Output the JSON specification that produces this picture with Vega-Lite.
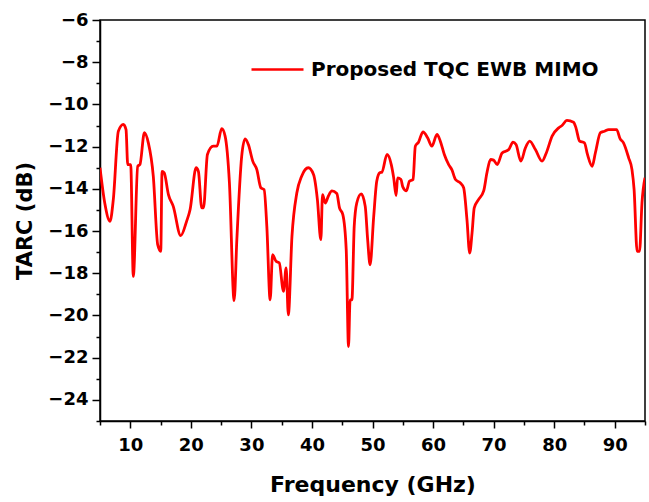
{
  "$schema": "https://vega.github.io/schema/vega-lite/v6.json",
  "width": 545,
  "height": 401,
  "autosize": {"type": "none"},
  "padding": {"left": 100, "top": 20, "right": 4, "bottom": 81},
  "background": "white",
  "config": {
    "view": {"stroke": "black", "strokeWidth": 1.5},
    "font": "DejaVu Sans",
    "axis": {"grid": false, "domainColor": "black", "domainWidth": 1.5, "tickColor": "black", "tickWidth": 1.5, "labelColor": "black", "titleColor": "black", "labelFont": "DejaVu Sans", "titleFont": "DejaVu Sans", "labelFontWeight": "bold", "titleFontWeight": "bold"}
  },
  "data": {"values": [
    {"f":5.0,"t":-13.0,"s":"Proposed TQC EWB MIMO"},
    {"f":5.8,"t":-14.7,"s":"Proposed TQC EWB MIMO"},
    {"f":6.65,"t":-15.54,"s":"Proposed TQC EWB MIMO"},
    {"f":7.2,"t":-14.5,"s":"Proposed TQC EWB MIMO"},
    {"f":8.03,"t":-11.27,"s":"Proposed TQC EWB MIMO"},
    {"f":8.86,"t":-10.95,"s":"Proposed TQC EWB MIMO"},
    {"f":9.3,"t":-11.19,"s":"Proposed TQC EWB MIMO"},
    {"f":9.58,"t":-12.85,"s":"Proposed TQC EWB MIMO"},
    {"f":10.07,"t":-12.85,"s":"Proposed TQC EWB MIMO"},
    {"f":10.5,"t":-18.15,"s":"Proposed TQC EWB MIMO"},
    {"f":11.23,"t":-12.93,"s":"Proposed TQC EWB MIMO"},
    {"f":11.6,"t":-12.85,"s":"Proposed TQC EWB MIMO"},
    {"f":12.33,"t":-11.34,"s":"Proposed TQC EWB MIMO"},
    {"f":12.98,"t":-11.82,"s":"Proposed TQC EWB MIMO"},
    {"f":13.8,"t":-13.4,"s":"Proposed TQC EWB MIMO"},
    {"f":14.53,"t":-16.65,"s":"Proposed TQC EWB MIMO"},
    {"f":15.03,"t":-16.96,"s":"Proposed TQC EWB MIMO"},
    {"f":15.25,"t":-13.17,"s":"Proposed TQC EWB MIMO"},
    {"f":15.6,"t":-13.24,"s":"Proposed TQC EWB MIMO"},
    {"f":16.3,"t":-14.27,"s":"Proposed TQC EWB MIMO"},
    {"f":17.1,"t":-14.83,"s":"Proposed TQC EWB MIMO"},
    {"f":18.33,"t":-16.22,"s":"Proposed TQC EWB MIMO"},
    {"f":19.3,"t":-15.54,"s":"Proposed TQC EWB MIMO"},
    {"f":19.88,"t":-14.98,"s":"Proposed TQC EWB MIMO"},
    {"f":20.87,"t":-13.0,"s":"Proposed TQC EWB MIMO"},
    {"f":21.25,"t":-13.17,"s":"Proposed TQC EWB MIMO"},
    {"f":21.8,"t":-14.9,"s":"Proposed TQC EWB MIMO"},
    {"f":22.1,"t":-14.9,"s":"Proposed TQC EWB MIMO"},
    {"f":22.74,"t":-12.37,"s":"Proposed TQC EWB MIMO"},
    {"f":23.7,"t":-11.98,"s":"Proposed TQC EWB MIMO"},
    {"f":24.3,"t":-11.98,"s":"Proposed TQC EWB MIMO"},
    {"f":25.1,"t":-11.15,"s":"Proposed TQC EWB MIMO"},
    {"f":25.66,"t":-11.5,"s":"Proposed TQC EWB MIMO"},
    {"f":26.37,"t":-13.7,"s":"Proposed TQC EWB MIMO"},
    {"f":27.15,"t":-19.3,"s":"Proposed TQC EWB MIMO"},
    {"f":27.6,"t":-16.4,"s":"Proposed TQC EWB MIMO"},
    {"f":28.4,"t":-12.45,"s":"Proposed TQC EWB MIMO"},
    {"f":28.97,"t":-11.63,"s":"Proposed TQC EWB MIMO"},
    {"f":29.5,"t":-11.9,"s":"Proposed TQC EWB MIMO"},
    {"f":30.24,"t":-12.7,"s":"Proposed TQC EWB MIMO"},
    {"f":30.9,"t":-13.09,"s":"Proposed TQC EWB MIMO"},
    {"f":31.56,"t":-13.95,"s":"Proposed TQC EWB MIMO"},
    {"f":32.1,"t":-14.04,"s":"Proposed TQC EWB MIMO"},
    {"f":32.55,"t":-15.78,"s":"Proposed TQC EWB MIMO"},
    {"f":33.1,"t":-19.26,"s":"Proposed TQC EWB MIMO"},
    {"f":33.5,"t":-17.12,"s":"Proposed TQC EWB MIMO"},
    {"f":34.1,"t":-17.44,"s":"Proposed TQC EWB MIMO"},
    {"f":34.6,"t":-17.5,"s":"Proposed TQC EWB MIMO"},
    {"f":35.3,"t":-18.86,"s":"Proposed TQC EWB MIMO"},
    {"f":35.74,"t":-17.74,"s":"Proposed TQC EWB MIMO"},
    {"f":36.1,"t":-19.97,"s":"Proposed TQC EWB MIMO"},
    {"f":36.7,"t":-16.25,"s":"Proposed TQC EWB MIMO"},
    {"f":37.5,"t":-14.2,"s":"Proposed TQC EWB MIMO"},
    {"f":38.3,"t":-13.4,"s":"Proposed TQC EWB MIMO"},
    {"f":39.4,"t":-13.0,"s":"Proposed TQC EWB MIMO"},
    {"f":40.26,"t":-13.32,"s":"Proposed TQC EWB MIMO"},
    {"f":40.9,"t":-14.51,"s":"Proposed TQC EWB MIMO"},
    {"f":41.47,"t":-16.41,"s":"Proposed TQC EWB MIMO"},
    {"f":41.75,"t":-14.27,"s":"Proposed TQC EWB MIMO"},
    {"f":42.2,"t":-14.67,"s":"Proposed TQC EWB MIMO"},
    {"f":42.7,"t":-14.35,"s":"Proposed TQC EWB MIMO"},
    {"f":43.3,"t":-14.1,"s":"Proposed TQC EWB MIMO"},
    {"f":44.1,"t":-14.22,"s":"Proposed TQC EWB MIMO"},
    {"f":44.55,"t":-14.9,"s":"Proposed TQC EWB MIMO"},
    {"f":45.1,"t":-15.22,"s":"Proposed TQC EWB MIMO"},
    {"f":45.66,"t":-16.88,"s":"Proposed TQC EWB MIMO"},
    {"f":46.04,"t":-21.47,"s":"Proposed TQC EWB MIMO"},
    {"f":46.3,"t":-19.26,"s":"Proposed TQC EWB MIMO"},
    {"f":46.6,"t":-19.26,"s":"Proposed TQC EWB MIMO"},
    {"f":46.98,"t":-15.78,"s":"Proposed TQC EWB MIMO"},
    {"f":47.4,"t":-14.67,"s":"Proposed TQC EWB MIMO"},
    {"f":48.14,"t":-14.24,"s":"Proposed TQC EWB MIMO"},
    {"f":48.8,"t":-14.83,"s":"Proposed TQC EWB MIMO"},
    {"f":49.2,"t":-16.41,"s":"Proposed TQC EWB MIMO"},
    {"f":49.6,"t":-17.6,"s":"Proposed TQC EWB MIMO"},
    {"f":50.2,"t":-15.3,"s":"Proposed TQC EWB MIMO"},
    {"f":50.7,"t":-13.64,"s":"Proposed TQC EWB MIMO"},
    {"f":51.2,"t":-13.24,"s":"Proposed TQC EWB MIMO"},
    {"f":51.56,"t":-13.21,"s":"Proposed TQC EWB MIMO"},
    {"f":52.4,"t":-12.37,"s":"Proposed TQC EWB MIMO"},
    {"f":53.1,"t":-12.85,"s":"Proposed TQC EWB MIMO"},
    {"f":53.5,"t":-13.48,"s":"Proposed TQC EWB MIMO"},
    {"f":53.9,"t":-14.32,"s":"Proposed TQC EWB MIMO"},
    {"f":54.14,"t":-13.48,"s":"Proposed TQC EWB MIMO"},
    {"f":54.7,"t":-13.56,"s":"Proposed TQC EWB MIMO"},
    {"f":55.0,"t":-13.91,"s":"Proposed TQC EWB MIMO"},
    {"f":55.6,"t":-14.1,"s":"Proposed TQC EWB MIMO"},
    {"f":56.1,"t":-13.64,"s":"Proposed TQC EWB MIMO"},
    {"f":56.7,"t":-13.56,"s":"Proposed TQC EWB MIMO"},
    {"f":57.07,"t":-11.98,"s":"Proposed TQC EWB MIMO"},
    {"f":57.6,"t":-11.79,"s":"Proposed TQC EWB MIMO"},
    {"f":58.33,"t":-11.3,"s":"Proposed TQC EWB MIMO"},
    {"f":59.1,"t":-11.58,"s":"Proposed TQC EWB MIMO"},
    {"f":59.8,"t":-11.98,"s":"Proposed TQC EWB MIMO"},
    {"f":60.65,"t":-11.42,"s":"Proposed TQC EWB MIMO"},
    {"f":61.2,"t":-11.74,"s":"Proposed TQC EWB MIMO"},
    {"f":61.86,"t":-12.37,"s":"Proposed TQC EWB MIMO"},
    {"f":62.58,"t":-12.85,"s":"Proposed TQC EWB MIMO"},
    {"f":63.1,"t":-13.09,"s":"Proposed TQC EWB MIMO"},
    {"f":63.7,"t":-13.56,"s":"Proposed TQC EWB MIMO"},
    {"f":64.5,"t":-13.72,"s":"Proposed TQC EWB MIMO"},
    {"f":65.05,"t":-13.95,"s":"Proposed TQC EWB MIMO"},
    {"f":65.6,"t":-15.46,"s":"Proposed TQC EWB MIMO"},
    {"f":66.05,"t":-17.04,"s":"Proposed TQC EWB MIMO"},
    {"f":66.44,"t":-16.09,"s":"Proposed TQC EWB MIMO"},
    {"f":66.8,"t":-14.9,"s":"Proposed TQC EWB MIMO"},
    {"f":67.5,"t":-14.51,"s":"Proposed TQC EWB MIMO"},
    {"f":68.36,"t":-14.1,"s":"Proposed TQC EWB MIMO"},
    {"f":68.9,"t":-13.24,"s":"Proposed TQC EWB MIMO"},
    {"f":69.5,"t":-12.61,"s":"Proposed TQC EWB MIMO"},
    {"f":70.0,"t":-12.64,"s":"Proposed TQC EWB MIMO"},
    {"f":70.6,"t":-12.85,"s":"Proposed TQC EWB MIMO"},
    {"f":71.4,"t":-12.3,"s":"Proposed TQC EWB MIMO"},
    {"f":72.5,"t":-12.14,"s":"Proposed TQC EWB MIMO"},
    {"f":73.2,"t":-11.79,"s":"Proposed TQC EWB MIMO"},
    {"f":73.7,"t":-11.9,"s":"Proposed TQC EWB MIMO"},
    {"f":74.5,"t":-12.69,"s":"Proposed TQC EWB MIMO"},
    {"f":75.25,"t":-12.06,"s":"Proposed TQC EWB MIMO"},
    {"f":75.96,"t":-11.74,"s":"Proposed TQC EWB MIMO"},
    {"f":76.9,"t":-12.14,"s":"Proposed TQC EWB MIMO"},
    {"f":78.0,"t":-12.69,"s":"Proposed TQC EWB MIMO"},
    {"f":78.7,"t":-12.3,"s":"Proposed TQC EWB MIMO"},
    {"f":79.66,"t":-11.5,"s":"Proposed TQC EWB MIMO"},
    {"f":80.75,"t":-11.11,"s":"Proposed TQC EWB MIMO"},
    {"f":81.3,"t":-11.0,"s":"Proposed TQC EWB MIMO"},
    {"f":82.1,"t":-10.76,"s":"Proposed TQC EWB MIMO"},
    {"f":83.2,"t":-10.84,"s":"Proposed TQC EWB MIMO"},
    {"f":83.6,"t":-11.11,"s":"Proposed TQC EWB MIMO"},
    {"f":84.2,"t":-11.74,"s":"Proposed TQC EWB MIMO"},
    {"f":85.0,"t":-11.82,"s":"Proposed TQC EWB MIMO"},
    {"f":85.5,"t":-12.37,"s":"Proposed TQC EWB MIMO"},
    {"f":86.27,"t":-12.93,"s":"Proposed TQC EWB MIMO"},
    {"f":86.8,"t":-12.3,"s":"Proposed TQC EWB MIMO"},
    {"f":87.64,"t":-11.34,"s":"Proposed TQC EWB MIMO"},
    {"f":88.3,"t":-11.27,"s":"Proposed TQC EWB MIMO"},
    {"f":89.0,"t":-11.19,"s":"Proposed TQC EWB MIMO"},
    {"f":90.3,"t":-11.19,"s":"Proposed TQC EWB MIMO"},
    {"f":90.9,"t":-11.63,"s":"Proposed TQC EWB MIMO"},
    {"f":91.45,"t":-11.82,"s":"Proposed TQC EWB MIMO"},
    {"f":92.3,"t":-12.53,"s":"Proposed TQC EWB MIMO"},
    {"f":92.85,"t":-13.09,"s":"Proposed TQC EWB MIMO"},
    {"f":93.2,"t":-14.04,"s":"Proposed TQC EWB MIMO"},
    {"f":93.7,"t":-16.96,"s":"Proposed TQC EWB MIMO"},
    {"f":94.1,"t":-16.96,"s":"Proposed TQC EWB MIMO"},
    {"f":94.5,"t":-14.67,"s":"Proposed TQC EWB MIMO"},
    {"f":95.0,"t":-13.48,"s":"Proposed TQC EWB MIMO"}
  ]},
  "mark": {"type": "line", "strokeWidth": 2.8, "interpolate": "monotone", "clip": true},
  "encoding": {
    "x": {
      "field": "f", "type": "quantitative",
      "scale": {"domain": [5, 95], "nice": false, "zero": false},
      "axis": {
        "title": "Frequency (GHz)", "titleFontSize": 22, "titlePadding": 20,
        "values": [5,10,15,20,25,30,35,40,45,50,55,60,65,70,75,80,85,90,95],
        "labelExpr": "datum.value % 10 == 0 ? datum.label : ''",
        "labelFontSize": 18, "labelPadding": 8, "labelFlush": false, "labelOverlap": false,
        "tickSize": {"condition": {"test": "datum.value % 10 != 0", "value": 4}, "value": 7}
      }
    },
    "y": {
      "field": "t", "type": "quantitative",
      "scale": {"domain": [-25, -6], "nice": false, "zero": false},
      "axis": {
        "title": "TARC (dB)", "titleFontSize": 21, "titlePadding": 12,
        "values": [-25,-24,-23,-22,-21,-20,-19,-18,-17,-16,-15,-14,-13,-12,-11,-10,-9,-8,-7,-6],
        "labelExpr": "datum.value % 2 == 0 ? datum.label : ''",
        "labelFontSize": 18, "labelPadding": 4, "labelFlush": false, "labelOverlap": false,
        "tickSize": {"condition": {"test": "datum.value % 2 != 0", "value": 4}, "value": 8}
      }
    },
    "color": {
      "field": "s", "type": "nominal",
      "scale": {"range": ["#ff0000"]},
      "legend": {
        "title": null, "orient": "none", "legendX": 150, "legendY": 22,
        "symbolType": "stroke", "symbolSize": 2704, "symbolStrokeWidth": 2.5,
        "labelFont": "DejaVu Sans", "labelFontWeight": "bold", "labelFontSize": 20,
        "labelColor": "black", "labelOffset": 6, "padding": 0, "labelLimit": 400
      }
    }
  }
}
